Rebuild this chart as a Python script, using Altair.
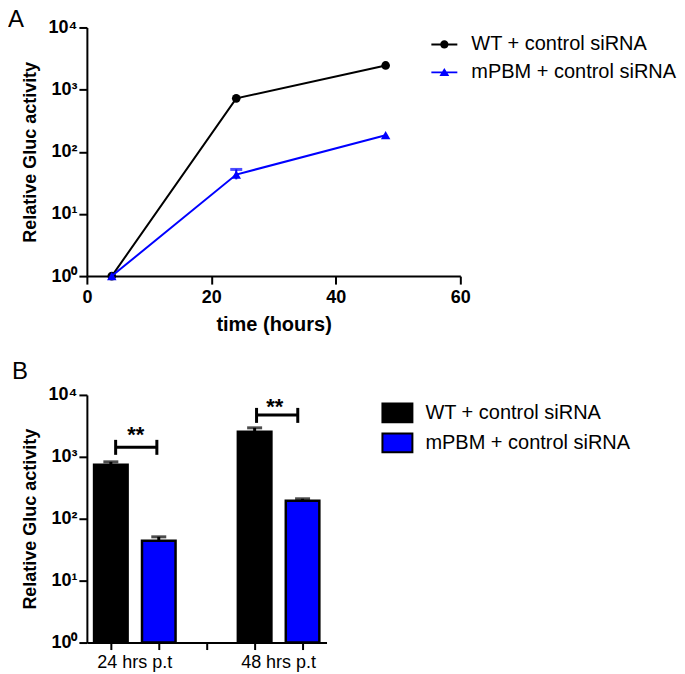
import altair as alt
import pandas as pd

FONT = "Liberation Sans"

# ---------------- data: panel A (time course) ----------------
series_names = ["WT + control siRNA", "mPBM + control siRNA"]
series_colors = ["#000000", "#0000ff"]
hours = [4, 24, 48]
wt_rel = [1, 724, 2450]
mpbm_rel = [1, 43, 185]
err_hours = [24]
mpbm_err_lo = [36]
mpbm_err_hi = [52]

# ---------------- data: panel B (bars) ----------------
bar_groups = ["24 hrs p.t", "48 hrs p.t"]
group_pos = [1.5, 4.5]
bar_pos_wt = [1, 4]
bar_pos_mpbm = [2, 5]
wt_bar = [745, 2530]
wt_bar_err = [830, 2940]
mpbm_bar = [44, 195]
mpbm_bar_err = [51, 210]
b_ticks = [1, 2, 3, 4, 5]

# significance brackets
sig_x1 = [1.1, 4.04]
sig_x2 = [1.96, 4.9]
sig_y = [1423, 4757]
sig_cap_lo = [1077, 3535]
sig_cap_hi = [1880, 6170]
sig_text_x = [1.52, 4.42]
sig_text_y = [1746, 4940]
sig_label = ["**", "**"]

log_ticks = [1, 10, 100, 1000, 10000]
sup_expr = ("datum.value == 1 ? '10\u2070' : datum.value == 10 ? '10\u00b9' : "
            "datum.value == 100 ? '10\u00b2' : datum.value == 1000 ? '10\u00b3' : '10\u2074'")

# ---------------- panel A ----------------
WA, HA = 374, 249


def xA(field):
    return alt.X(field, scale=alt.Scale(domain=[0, 60], nice=False, zero=False),
                 axis=alt.Axis(values=[0, 20, 40, 60], title="time (hours)", titlePadding=8,
                               labelPadding=4, labelFlush=False))


def yA(field):
    return alt.Y(field, scale=alt.Scale(type="log", domain=[1, 10000], nice=False),
                 axis=alt.Axis(values=log_ticks, labelExpr=sup_expr, title="Relative Gluc activity",
                               titlePadding=9, labelPadding=2, labelOverlap=False, titleFontSize=18))


line_df = pd.DataFrame({
    "hours": hours + hours,
    "value": wt_rel + mpbm_rel,
    "series": [series_names[0]] * len(hours) + [series_names[1]] * len(hours),
})
err_df = pd.DataFrame({"hours": err_hours, "lo": mpbm_err_lo, "hi": mpbm_err_hi})

series_layers = []
for name, col, shp, sz in zip(series_names, series_colors, ["circle", "triangle-up"], [75, 90]):
    sub = alt.Chart(line_df).transform_filter(alt.datum.series == name)
    series_layers.append(sub.mark_line(strokeWidth=2, color=col).encode(
        x=xA("hours:Q"), y=yA("value:Q")))
    series_layers.append(sub.mark_point(filled=True, shape=shp, size=sz, opacity=1, color=col).encode(
        x=xA("hours:Q"), y=yA("value:Q")))

err_rule = alt.Chart(err_df).mark_rule(color=series_colors[1], strokeWidth=2).encode(
    x=xA("hours:Q"), y=yA("lo:Q"), y2="hi:Q")
err_cap = alt.Chart(err_df).mark_tick(color=series_colors[1], orient="horizontal", size=12, thickness=3).encode(
    x=xA("hours:Q"), y=yA("hi:Q"))

# legend key glyphs: filled line stub + marker (legend only)
legend_paths = [
    "M-1,-0.075H1V0.075H-1ZM0.32,0A0.32,0.32,0,1,1,-0.32,0A0.32,0.32,0,1,1,0.32,0Z",
    "M-1,-0.075H1V0.075H-1ZM0,-0.34L0.38,0.28L-0.38,0.28Z",
]
legA = alt.Legend(title=None, orient="none", legendX=345, legendY=4, symbolSize=676,
                  symbolStrokeWidth=0, labelFontSize=20, labelFont=FONT, labelOffset=14,
                  rowPadding=5, labelColor="black", symbolOpacity=1, labelLimit=0)
legend_df = pd.DataFrame({"series": series_names})
leg_layer = alt.Chart(legend_df).transform_filter("false").mark_point(
    filled=True, opacity=1).encode(
    fill=alt.Fill("series:N", scale=alt.Scale(domain=series_names, range=series_colors), legend=legA),
    shape=alt.Shape("series:N", scale=alt.Scale(domain=series_names, range=legend_paths), legend=legA),
)
letterA = alt.Chart(pd.DataFrame({"label": ["A"]})).mark_text(
    font=FONT, fontSize=24, align="left", baseline="top", color="black").encode(
    x=alt.value(-79), y=alt.value(-19), text="label:N")

chartA = alt.layer(*series_layers, err_rule, err_cap, leg_layer, letterA).properties(
    width=WA, height=HA)

# ---------------- panel B ----------------
WB, HB = 240, 248


def xB(field):
    return alt.X(field, scale=alt.Scale(domain=[0.5, 5.5], nice=False, zero=False),
                 axis=alt.Axis(values=b_ticks, labels=False, title=None, tickSize=7))


def yB(field):
    return alt.Y(field, scale=alt.Scale(type="log", domain=[1, 10000], nice=False),
                 axis=alt.Axis(values=log_ticks, labelExpr=sup_expr, title="Relative Gluc activity",
                               titlePadding=9, labelPadding=2, labelOverlap=False, titleFontSize=18))


bar_df = pd.DataFrame({
    "pos": bar_pos_wt + bar_pos_mpbm,
    "value": wt_bar + mpbm_bar,
    "err": wt_bar_err + mpbm_bar_err,
    "series": [series_names[0]] * 2 + [series_names[1]] * 2,
})
legB = alt.Legend(title=None, orient="none", legendX=295, legendY=2,
                  symbolType="M-1,-0.62H1V0.62H-1Z", symbolSize=900,
                  symbolStrokeColor="black", symbolStrokeWidth=2, labelFontSize=20,
                  labelFont=FONT, labelOffset=12, rowPadding=-1, labelColor="black",
                  symbolOpacity=1, labelLimit=0)

bars = alt.Chart(bar_df).transform_calculate(
    x0="datum.pos - 0.35", x1="datum.pos + 0.35", base="1").mark_bar(
    stroke="black", strokeWidth=2.5, opacity=1).encode(
    x=xB("x0:Q"), x2="x1:Q", y=yB("value:Q"), y2="base:Q",
    fill=alt.Fill("series:N", scale=alt.Scale(domain=series_names, range=series_colors), legend=legB))
bar_err = alt.Chart(bar_df).mark_rule(color="black", strokeWidth=3).encode(
    x=xB("pos:Q"), y=yB("value:Q"), y2="err:Q")
bar_cap = alt.Chart(bar_df).mark_tick(color="black", orient="horizontal", size=15, thickness=3).encode(
    x=xB("pos:Q"), y=yB("err:Q"))

sig_df = pd.DataFrame({"x1": sig_x1, "x2": sig_x2, "y": sig_y})
sig_h = alt.Chart(sig_df).mark_rule(color="black", strokeWidth=3).encode(
    x=xB("x1:Q"), x2="x2:Q", y=yB("y:Q"))
cap_df = pd.DataFrame({"x": sig_x1 + sig_x2, "lo": sig_cap_lo * 2, "hi": sig_cap_hi * 2})
sig_caps = alt.Chart(cap_df).mark_rule(color="black", strokeWidth=3).encode(
    x=xB("x:Q"), y=yB("lo:Q"), y2="hi:Q")
sig_txt_df = pd.DataFrame({"x": sig_text_x, "y": sig_text_y, "t": sig_label})
sig_txt = alt.Chart(sig_txt_df).mark_text(
    font=FONT, fontSize=22, fontWeight="bold", baseline="alphabetic", color="black").encode(
    x=xB("x:Q"), y=yB("y:Q"), text="t:N")

grp_df = pd.DataFrame({"g": bar_groups, "x": group_pos})
grp_txt = alt.Chart(grp_df).mark_text(
    font=FONT, fontSize=18, baseline="top", color="black").encode(
    x=xB("x:Q"), y=alt.value(HB + 11), text="g:N")

letterB = alt.Chart(pd.DataFrame({"label": ["B"]})).mark_text(
    font=FONT, fontSize=24, align="left", baseline="top", color="black").encode(
    x=alt.value(-75), y=alt.value(-35), text="label:N")

chartB = alt.layer(bars, bar_err, bar_cap, sig_h, sig_caps, sig_txt, grp_txt, letterB).properties(
    width=WB, height=HB)

chart = alt.concat(chartA, chartB, columns=1, spacing=26, align="none").resolve_scale(
    color="independent", fill="independent", stroke="independent", shape="independent"
).resolve_legend(
    color="independent", fill="independent", stroke="independent", shape="independent"
).properties(
    padding={"left": 0, "top": 0, "right": 0, "bottom": 0}
).configure_view(stroke=None).configure_axis(
    domainColor="black", domainWidth=2, tickColor="black", tickWidth=2, tickSize=8,
    labelFont=FONT, labelFontSize=18, labelFontWeight="bold", labelColor="black",
    titleFont=FONT, titleFontSize=20, titleFontWeight="bold", titleColor="black", grid=False)

chart.save("out.html", embed_options={"renderer": "svg", "actions": False})
